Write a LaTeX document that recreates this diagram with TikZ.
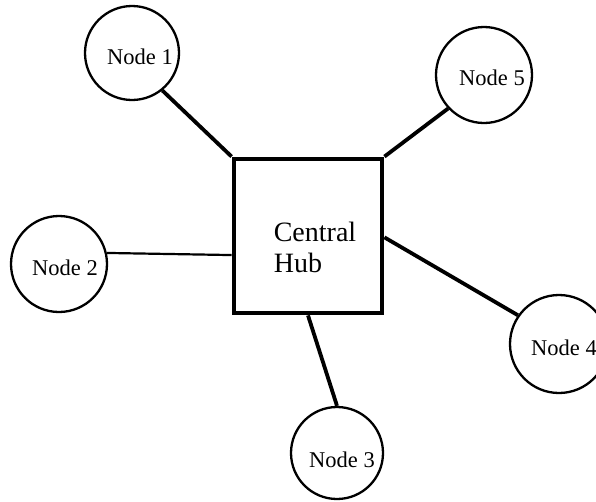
\documentclass[tikz,border=0pt]{standalone}
\usepackage{fontspec}
\setmainfont{Liberation Serif}
\usetikzlibrary{calc}
\begin{document}
\begin{tikzpicture}[x=1pt,y=-1pt,
  station/.style={draw, circle, line width=2.3pt, inner sep=0pt, minimum size=#1},
  station/.default=95pt,
  caption/.style={inner sep=0pt, font=\fontsize{22.5}{26}\selectfont},
  hubbox/.style={draw, line width=4.8pt, minimum width=148pt, minimum height=154pt, inner sep=0pt},
  link/.style={line width=3.8pt},
  thinlink/.style={line width=2.2pt}]
\useasboundingbox (0,0) rectangle (596,501);

% central hub
\node[hubbox] (hub) at (308,236) {};
\node[inner sep=0pt, align=left, font=\fontsize{28}{31}\selectfont] (hubtext) at (315,247) {Central\\Hub};

% outer stations
\node[station=94pt] (n1) at (132,53) {};
\node[caption] (t1) at (140,57) {Node 1};
\node[station=96pt] (n5) at (484,75) {};
\node[caption] (t5) at (492,78) {Node 5};
\node[station=96pt] (n2) at (59,264) {};
\node[caption] (t2) at (65,268) {Node 2};
\node[station=98pt] (n4) at (559,344) {};
\node[caption] (t4) at (564,348) {Node 4};
\node[station=92pt] (n3) at (337,453) {};
\node[caption] (t3) at (342,460) {Node 3};

% links to the hub
\draw[link] (n1.-51) -- (hub.north west);
\draw[link] (n5.-137) -- (hub.north east);
\draw[thinlink] (n2.13) -- (hub.194);
\draw[link] (hub.-1) -- (n4.145);
\draw[link] (hub.south) -- (n3.north);
\end{tikzpicture}
\end{document}
